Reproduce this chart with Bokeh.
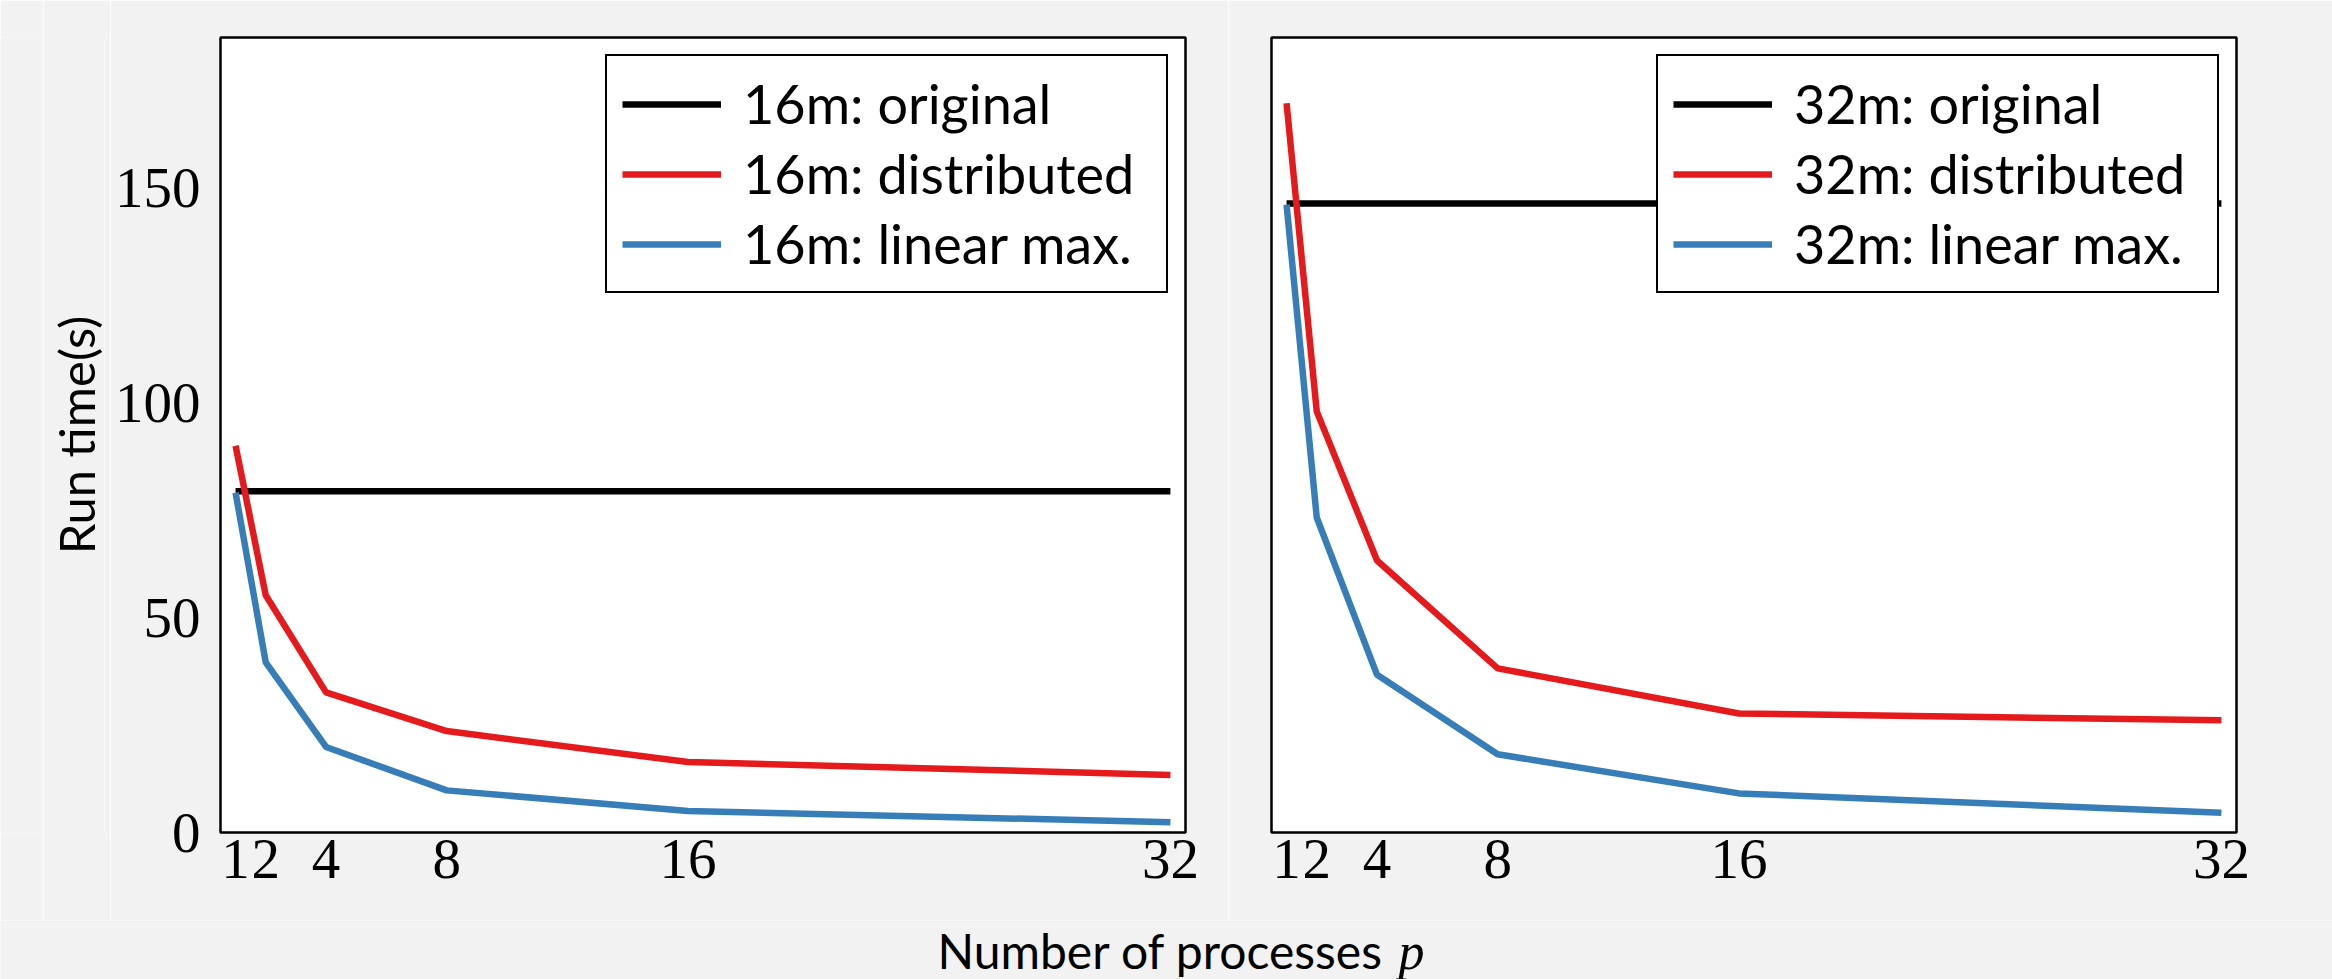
from bokeh.plotting import figure
from bokeh.models import Range1d, FixedTicker, Legend, LegendItem
from bokeh.layouts import row, column
from bokeh.embed import file_html
from bokeh.resources import INLINE
from bokeh.core.properties import value

# ---------------- data ----------------
procs = [1, 2, 4, 8, 16, 32]
x_ticks = [1, 2, 4, 8, 16, 32]
y_ticks = [0, 50, 100, 150]

orig_16m = [79.4, 79.4, 79.4, 79.4, 79.4, 79.4]
dist_16m = [90.0, 55.2, 32.6, 23.6, 16.4, 13.4]
lin_16m = [79.1, 39.6, 19.9, 9.8, 5.0, 2.4]

orig_32m = [146.4, 146.4, 146.4, 146.4, 146.4, 146.4]
dist_32m = [169.7, 98.0, 63.3, 38.2, 27.7, 26.1]
lin_32m = [146.1, 73.3, 36.7, 18.2, 9.1, 4.6]

labels_16m = ["16m: original", "16m: distributed", "16m: linear max."]
labels_32m = ["32m: original", "32m: distributed", "32m: linear max."]

y_label = "Run time(s)"
x_label = "Number of processes"
x_label_var = "p"

# ---------------- style ----------------
BG = "#f2f2f2"
SANS = "Lato"
SERIF = "Liberation Serif"
COLORS = ["black", "#e41a1c", "#377eb8"]
TOP_H = 920


def blank(width, height):
    f = figure(width=width, height=height, x_range=Range1d(0, 1), y_range=Range1d(0, 1),
               output_backend="svg", toolbar_location=None,
               x_axis_type=None, y_axis_type=None, min_border=0)
    f.grid.visible = False
    f.outline_line_color = None
    f.background_fill_color = BG
    f.border_fill_color = BG
    return f


def panel(width, mbl, mbr, show_y, series, labels):
    p = figure(width=width, height=TOP_H,
               x_range=Range1d(0.5, 32.5), y_range=Range1d(0, 185),
               output_backend="svg", toolbar_location=None,
               min_border_left=mbl, min_border_right=mbr,
               min_border_top=37, min_border_bottom=88)
    p.background_fill_color = "white"
    p.border_fill_color = BG
    p.outline_line_color = "black"
    p.outline_line_width = 2.5
    p.outline_line_alpha = 1.0
    p.grid.visible = False
    p.xaxis.ticker = FixedTicker(ticks=x_ticks)
    p.yaxis.ticker = FixedTicker(ticks=y_ticks)
    for ax in p.axis:
        ax.axis_line_color = None
        ax.major_tick_line_color = None
        ax.minor_tick_line_color = None
        ax.major_tick_out = 0
        ax.major_tick_in = 0
        ax.minor_tick_out = 0
        ax.major_label_text_font = SERIF
        ax.major_label_text_font_size = "57px"
        ax.major_label_text_color = "black"
    p.xaxis.major_label_standoff = 7
    p.yaxis.major_label_standoff = 20
    if not show_y:
        p.yaxis.visible = False

    items = []
    for vals, col, lab in zip(series, COLORS, labels):
        r = p.line(procs, vals, line_color=col, line_width=6.5)
        items.append(LegendItem(label=lab, renderers=[r]))
    leg = Legend(items=items, location="top_right", margin=17,
                 label_text_font=SANS, label_text_font_size="54px",
                 label_text_color="black",
                 glyph_width=99, glyph_height=40, label_height=40,
                 label_width=408, label_standoff=22, padding=15, spacing=5,
                 border_line_color="black", border_line_width=2,
                 border_line_alpha=1.0,
                 background_fill_color="white", background_fill_alpha=1.0)
    p.add_layout(leg)
    return p


left = panel(1118, 110, 43, True, [orig_16m, dist_16m, lin_16m], labels_16m)
right = panel(1104, 43, 96, False, [orig_32m, dist_32m, lin_32m], labels_32m)

# y-label strip (axis label only, centred on y = 8..920)
filler = blank(43, TOP_H)
ys = figure(width=67, height=TOP_H, x_range=Range1d(0, 1), y_range=Range1d(0, 1),
            output_backend="svg", toolbar_location=None, x_axis_type=None,
            min_border_left=0, min_border_right=0, min_border_top=8, min_border_bottom=0)
ys.grid.visible = False
ys.outline_line_color = None
ys.background_fill_color = BG
ys.border_fill_color = BG
ys.yaxis.ticker = FixedTicker(ticks=[])
ys.yaxis.axis_line_color = None
ys.yaxis.major_tick_line_color = None
ys.yaxis.minor_tick_line_color = None
ys.yaxis.major_tick_out = 0
ys.yaxis.major_tick_in = 0
ys.yaxis.axis_label = y_label
ys.yaxis.axis_label_text_font = SANS
ys.yaxis.axis_label_text_font_size = "49px"
ys.yaxis.axis_label_text_font_style = "normal"
ys.yaxis.axis_label_text_color = "black"
ys.yaxis.axis_label_standoff = 0

# x-label strip
BOT_W, BOT_H = 2332, 59
xs = figure(width=BOT_W, height=BOT_H, x_range=Range1d(0, BOT_W), y_range=Range1d(0, BOT_H),
            output_backend="svg", toolbar_location=None,
            x_axis_type=None, y_axis_type=None, min_border=0)
xs.grid.visible = False
xs.outline_line_color = None
xs.background_fill_color = BG
xs.border_fill_color = BG
xs.text(x=[937], y=[29], text=[x_label], text_font=value(SANS), text_font_size="48px",
        text_color="black", text_align="left", text_baseline="middle")
xs.text(x=[1398], y=[28], text=[x_label_var], text_font=value(SERIF), text_font_style="italic",
        text_font_size="52px", text_color="black", text_align="left", text_baseline="middle")

layout = column(row(filler, ys, left, right), xs)

open("out.html", "w").write(file_html(layout, INLINE))
